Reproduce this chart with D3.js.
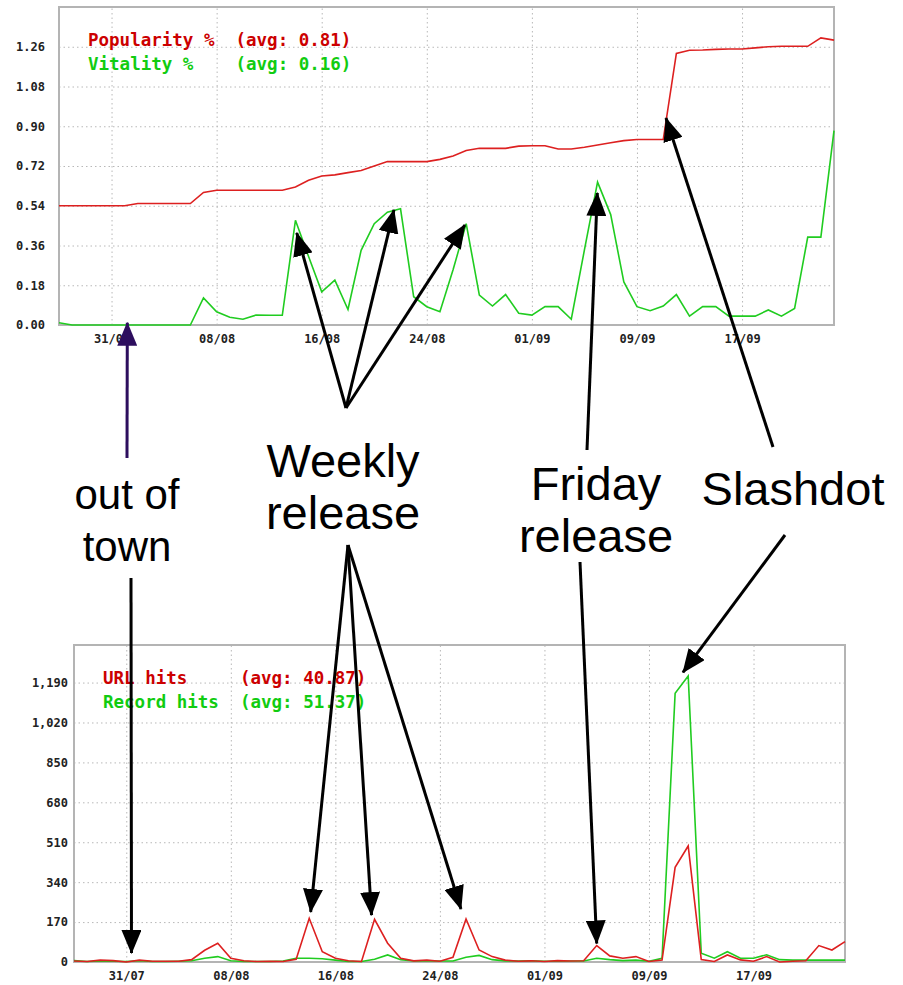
<!DOCTYPE html>
<html>
<head>
<meta charset="utf-8">
<script src="https://cdnjs.cloudflare.com/ajax/libs/d3/7.8.5/d3.min.js"></script>
<style>
body { margin: 0; background: #fff; }
.tick text { font-family: "DejaVu Sans Mono", monospace; font-weight: bold; fill: #222; }
</style>
</head>
<body>
<script>
// one value per day, 27/07 .. 24/09
var startDay = new Date(2004, 6, 27);
var endDay = new Date(2004, 8, 24);
var tickLabels = ["31/07", "08/08", "16/08", "24/08", "01/09", "09/09", "17/09"];

var popularity = [0.54, 0.54, 0.54, 0.54, 0.54, 0.54, 0.55, 0.55, 0.55, 0.55,
	0.55, 0.60, 0.61, 0.61, 0.61, 0.61, 0.61, 0.61, 0.625, 0.655,
	0.675, 0.68, 0.69, 0.70, 0.72, 0.74, 0.74, 0.74, 0.74, 0.75,
	0.765, 0.79, 0.80, 0.80, 0.80, 0.81, 0.812, 0.812, 0.797, 0.797,
	0.805, 0.815, 0.825, 0.835, 0.84, 0.84, 0.84, 1.23, 1.244, 1.245,
	1.248, 1.25, 1.25, 1.255, 1.26, 1.262, 1.262, 1.262, 1.30, 1.29];
var vitality = [0.01, 0, 0, 0, 0, 0, 0, 0, 0, 0,
	0, 0.123, 0.06, 0.035, 0.026, 0.045, 0.044, 0.044, 0.474, 0.31,
	0.15, 0.203, 0.07, 0.338, 0.459, 0.511, 0.526, 0.128, 0.083, 0.06,
	0.25, 0.459, 0.135, 0.086, 0.138, 0.053, 0.045, 0.083, 0.083, 0.026,
	0.34, 0.647, 0.50, 0.195, 0.083, 0.065, 0.086, 0.138, 0.04, 0.083,
	0.083, 0.04, 0.04, 0.04, 0.068, 0.04, 0.075, 0.398, 0.398, 0.88];
var urlHits = [4, 2, 8, 6, 0, 8, 3, 3, 3, 10,
	50, 80, 16, 5, 2, 3, 2, 12, 186, 44,
	16, 5, 2, 182, 80, 16, 5, 8, 3, 20,
	183, 51, 23, 8, 3, 5, 2, 6, 4, 5,
	70, 26, 16, 23, 2, 8, 403, 494, 10, 2,
	30, 9, 3, 23, 0, 3, 5, 70, 51, 87];
var recordHits = [6, 2, 4, 3, 2, 5, 2, 2, 3, 5,
	16, 23, 5, 2, 2, 2, 4, 16, 16, 14,
	8, 2, 2, 12, 30, 10, 4, 4, 4, 4,
	20, 28, 10, 5, 4, 5, 3, 3, 4, 4,
	16, 10, 6, 8, 3, 16, 1144, 1218, 37, 16,
	44, 16, 16, 31, 10, 8, 8, 8, 8, 8];

var topTicks = [0, 0.18, 0.36, 0.54, 0.72, 0.90, 1.08, 1.26];
var bottomTicks = [0, 170, 340, 510, 680, 850, 1020, 1190];

var red = "#dd2020", green = "#20cc20";

var days = d3.timeDay.range(startDay, d3.timeDay.offset(endDay, 1));
var parseTick = d3.timeParse("%d/%m/%Y");
var tickDates = tickLabels.map(function(t) { return parseTick(t + "/2004"); });

var svg = d3.select("body").append("svg")
	.attr("width", 903).attr("height", 985);

var defs = svg.append("defs");
function addMarker(id, color) {
	defs.append("marker")
		.attr("id", id)
		.attr("markerUnits", "userSpaceOnUse")
		.attr("viewBox", "0 0 24 20")
		.attr("refX", 23).attr("refY", 10)
		.attr("markerWidth", 24).attr("markerHeight", 20)
		.attr("orient", "auto")
		.append("path")
		.attr("d", "M0,0 L24,10 L0,20 Z")
		.attr("fill", color);
}
addMarker("head", "#000");
addMarker("headPurple", "#2d0e5e");

function drawChart(c) {
	var x = d3.scaleTime().domain([startDay, endDay]).range([c.left, c.right]);
	var y = d3.scaleLinear().domain([0, c.yMax]).range([c.bottom, c.top]);
	var g = svg.append("g");

	// dotted grid
	g.append("g")
		.attr("transform", "translate(0," + c.bottom + ")")
		.call(d3.axisBottom(x).tickValues(tickDates).tickSize(-(c.bottom - c.top)).tickFormat(""))
		.call(function(s) { s.select(".domain").remove(); })
		.selectAll("line").attr("stroke", "#b8b8b8").attr("stroke-dasharray", "1.5,3");
	g.append("g")
		.attr("transform", "translate(" + c.left + ",0)")
		.call(d3.axisLeft(y).tickValues(c.ticks.slice(1)).tickSize(-(c.right - c.left)).tickFormat(""))
		.call(function(s) { s.select(".domain").remove(); })
		.selectAll("line").attr("stroke", "#b8b8b8").attr("stroke-dasharray", "1.5,3");

	// axis labels
	g.append("g")
		.attr("transform", "translate(" + c.left + ",0)")
		.call(d3.axisLeft(y).tickValues(c.ticks).tickSize(0).tickPadding(c.yPad).tickFormat(c.fmt))
		.call(function(s) { s.select(".domain").remove(); })
		.selectAll("text").style("font-size", "12px");
	g.append("g")
		.attr("transform", "translate(0," + c.bottom + ")")
		.call(d3.axisBottom(x).tickValues(tickDates).tickSize(0).tickPadding(9.5).tickFormat(d3.timeFormat("%d/%m")))
		.call(function(s) { s.select(".domain").remove(); })
		.selectAll("text").style("font-size", "12px");

	g.append("rect")
		.attr("x", c.left).attr("y", c.top)
		.attr("width", c.right - c.left).attr("height", c.bottom - c.top)
		.attr("fill", "none").attr("stroke", "#b4b4b4").attr("stroke-width", 2);

	c.series.forEach(function(s) {
		var line = d3.line()
			.x(function(d, i) { return x(days[i]); })
			.y(function(d) { return y(d); });
		g.append("path")
			.datum(s.values)
			.attr("d", line)
			.attr("fill", "none")
			.attr("stroke", s.color)
			.attr("stroke-width", 1.6);
	});

	c.legend.forEach(function(l, i) {
		g.append("text")
			.attr("x", c.legendX).attr("y", c.legendY + i * 23.5)
			.attr("fill", l.color)
			.style("font-family", '"DejaVu Sans Mono", monospace')
			.style("font-weight", "bold")
			.style("font-size", "17.5px")
			.style("white-space", "pre")
			.text(l.text);
	});

	return { x: x, y: y };
}

var topChart = drawChart({
	left: 59, right: 834, top: 7, bottom: 325, yMax: 1.44, yPad: 14,
	ticks: topTicks, fmt: d3.format(".2f"),
	legendX: 88, legendY: 46,
	series: [{ values: popularity, color: red }, { values: vitality, color: green }],
	legend: [
		{ text: "Popularity %  (avg: 0.81)", color: "#cc0000" },
		{ text: "Vitality %    (avg: 0.16)", color: "#11cc11" }
	]
});
var bottomChart = drawChart({
	left: 74, right: 845, top: 645, bottom: 962, yMax: 1350, yPad: 6,
	ticks: bottomTicks, fmt: d3.format(","),
	legendX: 103, legendY: 684,
	series: [{ values: recordHits, color: green }, { values: urlHits, color: red }],
	legend: [
		{ text: "URL hits     (avg: 40.87)", color: "#cc0000" },
		{ text: "Record hits  (avg: 51.37)", color: "#11cc11" }
	]
});

// annotation arrows: start in page pixels, tip at (day offset, value) on a chart
var arrows = [
	{ chart: topChart, from: [127, 458], day: 5.2, v: 0.01, head: "headPurple", color: "#2d0e5e" },
	{ chart: topChart, from: [346, 408], day: 18.1, v: 0.417 },
	{ chart: topChart, from: [346, 408], day: 25.5, v: 0.521 },
	{ chart: topChart, from: [346, 408], day: 30.9, v: 0.453 },
	{ chart: topChart, from: [587, 450], day: 40.98, v: 0.598 },
	{ chart: topChart, from: [773, 447], day: 46.21, v: 0.937 },
	{ chart: bottomChart, from: [131, 578], day: 4.4, v: 38 },
	{ chart: bottomChart, from: [348, 545], day: 18.11, v: 213 },
	{ chart: bottomChart, from: [348, 545], day: 22.77, v: 200 },
	{ chart: bottomChart, from: [348, 545], day: 29.61, v: 226 },
	{ chart: bottomChart, from: [580, 562], day: 40.0, v: 79 },
	{ chart: bottomChart, from: [785, 535], day: 46.6, v: 1233 }
];
arrows.forEach(function(a) {
	var tx = a.chart.x(new Date(startDay.getTime() + a.day * 864e5));
	var ty = a.chart.y(a.v);
	svg.append("line")
		.attr("x1", a.from[0]).attr("y1", a.from[1])
		.attr("x2", tx).attr("y2", ty)
		.attr("stroke", a.color || "#000")
		.attr("stroke-width", 3)
		.attr("marker-end", "url(#" + (a.head || "head") + ")");
});

var labels = [
	{ lines: ["out of", "town"], x: 127, y: 509, size: 42 },
	{ lines: ["Weekly", "release"], x: 343, y: 477, size: 47 },
	{ lines: ["Friday", "release"], x: 596, y: 500, size: 47 },
	{ lines: ["Slashdot"], x: 793, y: 505, size: 47 }
];
labels.forEach(function(l) {
	var t = svg.append("text")
		.attr("text-anchor", "middle")
		.style("font-family", '"Liberation Sans", Arial, sans-serif')
		.style("font-size", l.size + "px")
		.attr("fill", "#000");
	l.lines.forEach(function(s, i) {
		t.append("tspan").attr("x", l.x).attr("y", l.y + i * 52).text(s);
	});
});
</script>
</body>
</html>
